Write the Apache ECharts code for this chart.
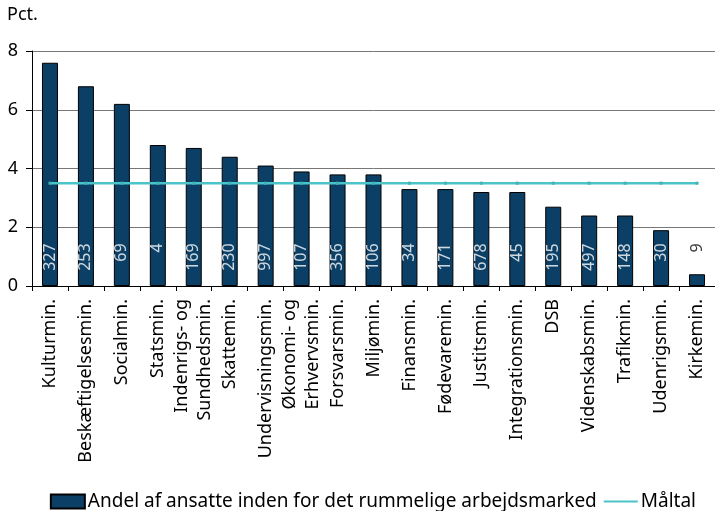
<!DOCTYPE html>
<html>
<head>
<meta charset="utf-8">
<script src="https://cdn.jsdelivr.net/npm/echarts@6/dist/echarts.min.js"></script>
<style>
  html, body { margin: 0; padding: 0; background: #fff; }
  #chart { width: 715px; height: 511px; }
</style>
</head>
<body>
<div id="chart"></div>
<script>
// kategorier og værdier
var ministerier = ['Kulturmin.', 'Beskæftigelsesmin.', 'Socialmin.', 'Statsmin.', 'Indenrigs- og\nSundhedsmin.',
    'Skattemin.', 'Undervisningsmin.', 'Økonomi- og\nErhvervsmin.', 'Forsvarsmin.', 'Miljømin.', 'Finansmin.',
    'Fødevaremin.', 'Justitsmin.', 'Integrationsmin.', 'DSB', 'Videnskabsmin.', 'Trafikmin.', 'Udenrigsmin.', 'Kirkemin.']
var andel = [7.6, 6.8, 6.2, 4.8, 4.7, 4.4, 4.1, 3.9, 3.8, 3.8, 3.3, 3.3, 3.2, 3.2, 2.7, 2.4, 2.4, 1.9, 0.4]
var antal = [327, 253, 69, 4, 169, 230, 997, 107, 356, 106, 34, 171, 678, 45, 195, 497, 148, 30, 9]
var maaltal = 3.5
var yTicks = [0, 2, 4, 6, 8]

var font = 'Noto Sans'
var labelY = 1.45

var chart = echarts.init(document.getElementById('chart'))
var option = {
    animation: false,
    textStyle: { fontFamily: font, color: '#000' },
    title: {
        text: 'Pct.',
        left: 2,
        top: 1,
        textStyle: { fontFamily: font, fontSize: 18, fontWeight: 'normal', color: '#000' }
    },
    legend: {
        data: [
            { name: 'Andel af ansatte inden for det rummelige arbejdsmarked', icon: 'rect' },
            { name: 'Måltal', itemStyle: { color: 'rgba(0,0,0,0)', borderWidth: 0 } }
        ],
        right: 14,
        top: 487,
        itemWidth: 34,
        itemHeight: 14,
        itemGap: 6,
        textStyle: { fontFamily: font, fontSize: 19, color: '#000', padding: [0, 0, 0, -2] }
    },
    grid: {
        left: 32,
        top: 51,
        width: 690,
        height: 235
    },
    xAxis: {
        type: 'category',
        data: ministerier,
        boundaryGap: true,
        axisLine: { lineStyle: { color: '#000', width: 1 } },
        axisTick: { show: true, interval: 0, length: 5, lineStyle: { color: '#000' } },
        axisLabel: {
            interval: 0,
            rotate: 90,
            margin: 13,
            fontFamily: font,
            fontSize: 18,
            color: '#000',
            lineHeight: 23
        }
    },
    yAxis: {
        type: 'value',
        min: yTicks[0],
        max: yTicks[yTicks.length - 1],
        interval: 2,
        axisLine: { show: true, lineStyle: { color: '#000' } },
        axisTick: { show: true, length: 6, lineStyle: { color: '#000' } },
        axisLabel: { fontFamily: font, fontSize: 18, color: '#000', margin: 14 },
        splitLine: { lineStyle: { color: '#777', width: 1 } }
    },
    series: [
        {
            name: 'Andel af ansatte inden for det rummelige arbejdsmarked',
            type: 'bar',
            data: andel,
            barWidth: 16,
            itemStyle: { color: '#0b3f66', borderColor: '#000', borderWidth: 1 }
        },
        {
            name: 'Måltal',
            type: 'line',
            data: ministerier.map(function () { return maaltal }),
            symbol: 'rect',
            symbolSize: 3,
            lineStyle: { color: '#4cc3c8', width: 2.5 },
            itemStyle: { color: '#3fb3b8' },
            z: 3
        },
        {
            // antal ansatte skrevet i søjlerne
            name: 'antal',
            type: 'scatter',
            data: antal.map(function (v, i) {
                return {
                    value: [i, labelY],
                    label: { color: andel[i] > labelY ? '#fff' : '#000' }
                }
            }),
            symbolSize: 1,
            itemStyle: { color: 'rgba(0,0,0,0)' },
            silent: true,
            z: 5,
            label: {
                show: true,
                position: 'inside',
                rotate: 90,
                align: 'right',
                verticalAlign: 'middle',
                fontFamily: font,
                fontSize: 16,
                formatter: function (p) { return antal[p.dataIndex] }
            }
        }
    ]
}
chart.setOption(option)
</script>
</body>
</html>
